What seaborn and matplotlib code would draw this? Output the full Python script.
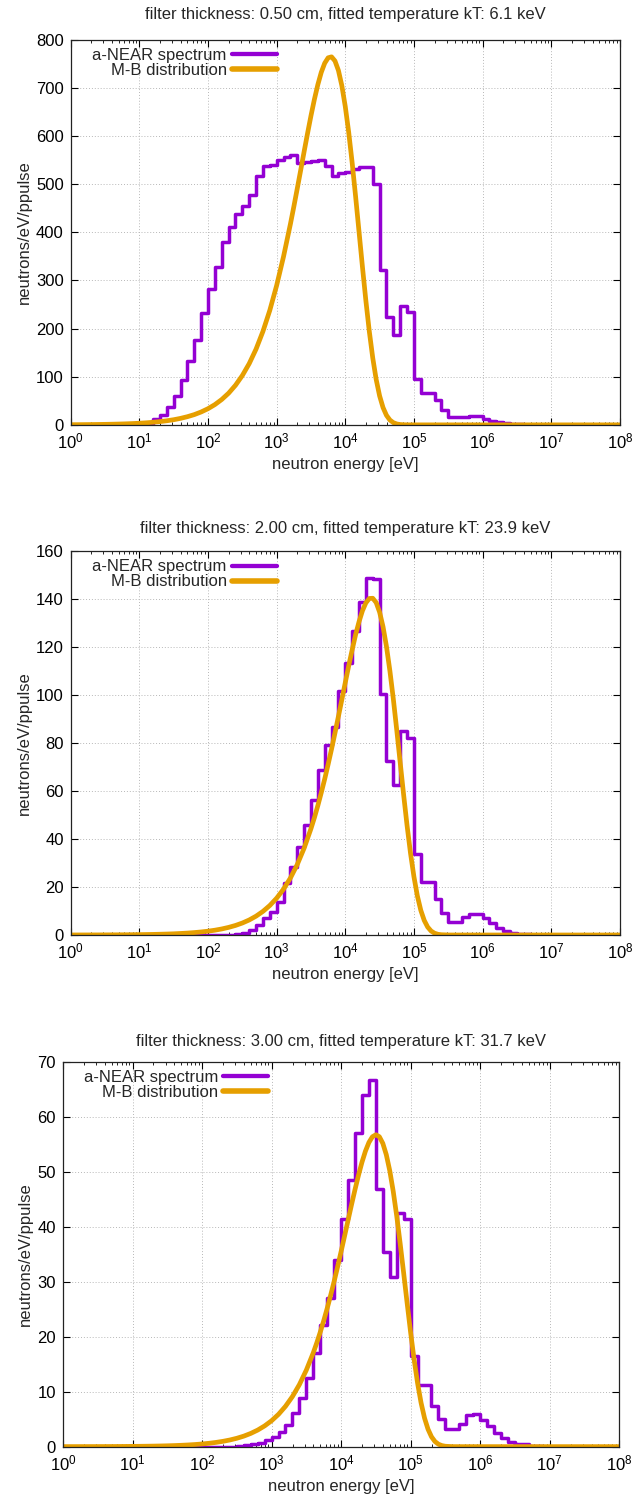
import numpy as np
import pandas as pd
import seaborn as sns
import matplotlib.pyplot as plt
from matplotlib.ticker import LogLocator, MultipleLocator, NullFormatter

sns.set_style("ticks")
plt.rcParams['font.family'] = ['Liberation Sans', 'DejaVu Sans']

# bin edges: 10 bins per decade, 10^0 .. 10^8 eV
edges = np.logspace(0, 8, 81)
n_edges = len(edges)

titles = ["filter thickness: 0.50 cm, fitted temperature kT: 6.1 keV",
          "filter thickness: 2.00 cm, fitted temperature kT: 23.9 keV",
          "filter thickness: 3.00 cm, fitted temperature kT: 31.7 keV"]

# a-NEAR spectrum, one value per bin (bins start at 10^0.0, 10^0.1, ...)
near_05 = [0, 0, 0, 0, 0, 0, 0, 0, 0, 0,
           0.5, 2, 12, 21, 38, 60, 93, 133, 177, 232,
           283, 329, 379, 411, 438, 455, 478, 518, 538, 540,
           550, 556, 561, 544, 547, 548, 550, 537, 516, 523,
           526, 531, 535, 535, 500, 322, 225, 187, 247, 235,
           95, 67, 67, 52, 31, 17, 16, 17, 19, 19,
           12, 9, 5, 4, 2, 1, 0.5]
near_20 = [0, 0, 0, 0, 0, 0, 0, 0, 0, 0,
           0, 0, 0, 0, 0, 0, 0, 0, 0, 0,
           0, 0, 0.1, 0.2, 0.4, 1.0, 2.0, 4.2, 6.9, 9.7,
           13.9, 21.5, 28.4, 36.7, 45.7, 56.4, 68.6, 79, 86.6, 101.5,
           113.5, 126.5, 138.6, 148.6, 148.3, 100.3, 72.6, 62.6, 85, 82.2,
           33.6, 22.1, 22.1, 15.2, 9.2, 5.5, 5.4, 7.4, 8.8, 8.8,
           7.0, 4.8, 2.8, 1.7, 1.0, 0.6, 0.4, 0.2]
near_30 = [0, 0, 0, 0, 0, 0, 0, 0, 0, 0,
           0, 0, 0, 0, 0, 0, 0, 0, 0, 0,
           0, 0, 0, 0, 0, 0.2, 0.3, 0.4, 0.6, 1.2,
           1.7, 2.7, 3.9, 6.2, 8.8, 12.5, 17, 22.2, 27, 34,
           41.3, 48.4, 57, 63.9, 66.7, 46.8, 35.3, 30.8, 42.4, 41.3,
           16.5, 11.2, 11.2, 7.3, 5.0, 3.2, 3.2, 4.1, 5.8, 6.0,
           4.8, 3.8, 2.4, 1.5, 0.9, 0.5, 0.4, 0.2, 0.1]

# fitted M-B curve, read at every bin edge
mb_05 = [0.34, 0.43, 0.54, 0.68, 0.86, 1.08, 1.36, 1.71, 2.15, 2.71,
         3.41, 4.29, 5.39, 6.78, 8.53, 10.7, 13.5, 17.0, 21.3, 26.8,
         33.6, 42.1, 52.7, 65.8, 82.2, 102.5, 127.2, 157.4, 194.1, 237.8,
         289.6, 349.5, 416.9, 490.7, 567.6, 642.2, 706.8, 751.4, 764.6, 736.3,
         661.2, 544.6, 401.5, 257.8, 139.1, 60.2, 19.8, 4.6, 0.69, 0.06]
mb_20 = [0.016, 0.020, 0.025, 0.032, 0.040, 0.051, 0.064, 0.080, 0.10, 0.13,
         0.16, 0.20, 0.25, 0.32, 0.40, 0.50, 0.64, 0.80, 1.01, 1.27,
         1.59, 2.00, 2.52, 3.17, 3.98, 4.99, 6.26, 7.85, 9.83, 12.29,
         15.34, 19.10, 23.72, 29.35, 36.16, 44.31, 53.90, 64.98, 77.49, 91.09,
         105.2, 118.8, 130.5, 138.4, 140.3, 134.5, 120.2, 98.3, 71.8, 45.6,
         24.3, 10.3, 3.32, 0.75, 0.11, 0.01]
mb_30 = [0.005, 0.006, 0.008, 0.010, 0.012, 0.015, 0.019, 0.024, 0.031, 0.039,
         0.049, 0.061, 0.077, 0.097, 0.122, 0.154, 0.194, 0.244, 0.306, 0.385,
         0.485, 0.610, 0.767, 0.964, 1.21, 1.52, 1.91, 2.40, 3.01, 3.77,
         4.71, 5.88, 7.33, 9.11, 11.28, 13.92, 17.07, 20.81, 25.15, 30.06,
         35.47, 41.15, 46.74, 51.70, 55.30, 56.70, 55.13, 50.14, 41.91, 31.51,
         20.73, 11.53, 5.19, 1.79, 0.44, 0.07, 0.007]

# extra readings of the curve half way between edges, around the peak
# (first one at 10^start, then every 0.1 decade)
mb_05_mid_start = 3.25
mb_05_mid = [453.1, 528.9, 605.5, 676.3, 732.4, 762.6, 756.0, 704.6, 607.5,
             474.8, 328.1, 194.0, 94.3, 35.9, 10.0, 1.89, 0.22]
mb_20_mid_start = 3.55
mb_20_mid = [48.9, 59.3, 71.1, 84.2, 98.1, 112.2, 125.1, 135.1, 140.2, 138.5,
             128.4, 110.0, 85.3, 58.4, 34.1, 16.3, 6.09, 1.66, 0.30]
mb_30_mid_start = 3.65
mb_30_mid = [18.87, 22.90, 27.54, 32.72, 38.30, 43.99, 49.34, 53.72, 56.33,
             56.34, 53.07, 46.38, 36.87, 26.05, 15.83, 7.97, 3.17, 0.93, 0.19]

panels = [(near_05, mb_05, mb_05_mid_start, mb_05_mid, 800, 100),
          (near_20, mb_20, mb_20_mid_start, mb_20_mid, 160, 20),
          (near_30, mb_30, mb_30_mid_start, mb_30_mid, 70, 10)]

# axes boxes in figure fractions (left, bottom, width, height)
boxes = [(0.110, 0.716, 0.854, 0.2574),
         (0.110, 0.375, 0.854, 0.2567),
         (0.098, 0.033, 0.865, 0.2574)]
legend_right = [0.375, 0.375, 0.369]
title_pad = [15, 13, 11]

purple = "#9400D3"
orange = "#E69F00"
fs = 12

fig = plt.figure(figsize=(6.43, 14.96), dpi=100)

for i, (near, mb, mid_start, mb_mid, ymax, ystep) in enumerate(panels):
    ax = fig.add_axes(boxes[i])
    ax.set_xscale("log")

    hist = list(near) + [0] * (n_edges - 1 - len(near))
    hist = hist + [hist[-1]]
    df_near = pd.DataFrame({"energy": edges, "value": hist})

    curve = list(mb) + [0] * (n_edges - len(mb))
    mid_energy = 10 ** (mid_start + 0.1 * np.arange(len(mb_mid)))
    df_mb = pd.DataFrame({"energy": np.concatenate([edges, mid_energy]),
                          "value": curve + list(mb_mid)})
    df_mb = df_mb.sort_values("energy")

    sns.lineplot(data=df_near, x="energy", y="value", ax=ax, color=purple,
                 lw=2.5, drawstyle="steps-post", estimator=None, sort=False,
                 label="a-NEAR spectrum")
    sns.lineplot(data=df_mb, x="energy", y="value", ax=ax, color=orange,
                 lw=3.4, estimator=None, sort=False, label="M-B distribution")

    ax.set_xlim(1, 1e8)
    ax.set_ylim(0, ymax)
    ax.yaxis.set_major_locator(MultipleLocator(ystep))
    ax.set_xticks(edges[::10])
    ax.xaxis.set_minor_locator(LogLocator(base=10, subs=np.arange(2, 10), numticks=20))
    ax.xaxis.set_minor_formatter(NullFormatter())

    ax.grid(True, which="major", color="#b8b8b8", linestyle=(0, (1, 2)), lw=0.7)
    ax.tick_params(which="both", direction="in", top=True, right=True,
                   labelsize=fs, colors="black", pad=5)
    ax.tick_params(which="major", length=5, width=0.8)
    ax.tick_params(which="minor", length=2.5, width=0.6)
    for sp in ax.spines.values():
        sp.set_color("#222222")
        sp.set_linewidth(0.9)

    ax.set_title(titles[i], fontsize=fs, pad=title_pad[i])
    ax.set_xlabel("neutron energy [eV]", fontsize=fs, labelpad=4)
    ax.set_ylabel("neutrons/eV/ppulse", fontsize=fs, labelpad=3)

    leg = ax.legend(loc="upper right", bbox_to_anchor=(legend_right[i], 0.978),
                    frameon=False, markerfirst=False, fontsize=fs,
                    handlelength=2.7, handletextpad=0.3, labelspacing=0.0,
                    borderaxespad=0.0, borderpad=0.0)
    for line in leg.get_lines():
        line.set_linewidth(line.get_linewidth() + 0.6)

fig.savefig("out.png", dpi=100)
